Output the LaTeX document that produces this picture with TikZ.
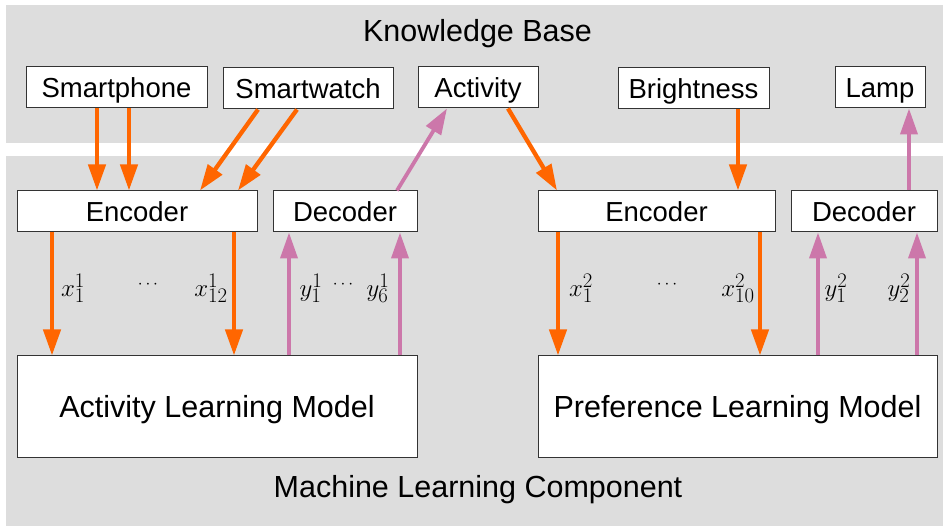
\documentclass[tikz,border=0pt]{standalone}
\usepackage{fontspec}
\setmainfont{Liberation Sans}
\usetikzlibrary{arrows.meta}
\definecolor{bandgray}{HTML}{DDDDDD}
\definecolor{feedorange}{HTML}{FF6600}
\definecolor{outpink}{HTML}{CC77AA}
\definecolor{boxline}{HTML}{333333}
\tikzset{
  box/.style={draw=boxline, line width=1pt, fill=white, inner sep=0pt,
    font=\fontsize{27.5}{30}\selectfont, text height=20pt, text depth=0pt},
  bigbox/.style={box, font=\fontsize{30.5}{33}\selectfont, text height=22pt, text depth=0pt},
  title/.style={font=\fontsize{30.5}{33}\selectfont, inner sep=0pt,
    text height=22pt, text depth=0pt},
  lbl/.style={font=\fontsize{28}{30}\selectfont, inner sep=0pt},
  dots/.style={font=\fontsize{18}{20}\selectfont, inner sep=0pt},
  inarrow/.style={draw=feedorange, line width=4.3pt,
    -{Triangle[length=26pt,width=17pt]}},
  outarrow/.style={draw=outpink, line width=3.8pt,
    -{Triangle[length=26pt,width=17pt]}}
}
\begin{document}
\begin{tikzpicture}[x=1pt,y=-1pt]
  \useasboundingbox[fill=white] (0,0) rectangle (943,526);
  % the two bands
  \fill[bandgray] (6,5) rectangle (943,143);
  \fill[bandgray] (6,156) rectangle (943,526);
  \node[title] (kb) at (477.5,30.5) {Knowledge Base};
  \node[title] (mlc) at (478,486.5) {Machine Learning Component};

  % knowledge base entries
  \node[box, minimum width=181pt, minimum height=41pt] (sp)   at (116.5,87.5) {Smartphone};
  \node[box, minimum width=170pt, minimum height=41pt] (sw)   at (308,88.5)   {Smartwatch};
  \node[box, minimum width=120pt, minimum height=41pt] (act)  at (478,87.5)   {Activity};
  \node[box, minimum width=151pt, minimum height=41pt] (br)   at (693.5,88.5) {Brightness};
  \node[box, minimum width=90pt,  minimum height=41pt] (lamp) at (880,87.5)   {Lamp};

  % encoders and decoders
  \node[box, minimum width=240pt, minimum height=41pt] (enc1) at (137,211.5)   {Encoder};
  \node[box, minimum width=144pt, minimum height=41pt] (dec1) at (345,211.5)   {Decoder};
  \node[box, minimum width=237pt, minimum height=41pt] (enc2) at (656.5,211.5) {Encoder};
  \node[box, minimum width=146pt, minimum height=41pt] (dec2) at (864,211.5)   {Decoder};

  % learning models
  \node[bigbox, minimum width=400pt, minimum height=102pt] (alm) at (217,407)   {Activity Learning Model};
  \node[bigbox, minimum width=399pt, minimum height=102pt] (plm) at (737.5,407) {Preference Learning Model};

  % knowledge base -> encoders
  \draw[inarrow] ([xshift=-19.5pt]sp.south) -- ([xshift=-40pt]enc1.north);
  \draw[inarrow] ([xshift=12.5pt]sp.south) -- ([xshift=-8pt]enc1.north);
  \draw[inarrow] ([xshift=-50pt]sw.south) -- ([xshift=63pt]enc1.north);
  \draw[inarrow] ([xshift=-11pt]sw.south) -- ([xshift=101pt]enc1.north);
  \draw[inarrow] ([xshift=30pt]act.south) -- ([xshift=-99.5pt]enc2.north);
  \draw[inarrow] ([xshift=44.5pt]br.south) -- ([xshift=81.5pt]enc2.north);

  % decoders -> knowledge base
  \draw[outarrow] ([xshift=52pt]dec1.north) -- ([xshift=-31pt]act.south);
  \draw[outarrow] ([xshift=45pt]dec2.north) -- ([xshift=29pt]lamp.south);

  % encoders -> models
  \draw[inarrow] ([xshift=-85pt]enc1.south) -- ([xshift=-165pt]alm.north);
  \draw[inarrow] ([xshift=97pt]enc1.south) -- ([xshift=17pt]alm.north);
  \draw[inarrow] ([xshift=-98.5pt]enc2.south) -- ([xshift=-179.5pt]plm.north);
  \draw[inarrow] ([xshift=103.5pt]enc2.south) -- ([xshift=22.5pt]plm.north);

  % models -> decoders
  \draw[outarrow] ([xshift=72pt]alm.north) -- ([xshift=-56pt]dec1.south);
  \draw[outarrow] ([xshift=183pt]alm.north) -- ([xshift=55pt]dec1.south);
  \draw[outarrow] ([xshift=80.5pt]plm.north) -- ([xshift=-46pt]dec2.south);
  \draw[outarrow] ([xshift=179.5pt]plm.north) -- ([xshift=53pt]dec2.south);

  % feature and output labels
  \node[lbl]  (xa)  at (73,288)  {$x^1_1$};
  \node[dots] (da)  at (148,285) {$\cdots$};
  \node[lbl]  (xb)  at (211,288) {$x^1_{12}$};
  \node[lbl]  (ya)  at (311,288) {$y^1_1$};
  \node[dots] (db)  at (343,285) {$\cdots$};
  \node[lbl]  (yb)  at (378,288) {$y^1_6$};
  \node[lbl]  (xc)  at (581,288) {$x^2_1$};
  \node[dots] (dc)  at (667,285) {$\cdots$};
  \node[lbl]  (xd)  at (738,288) {$x^2_{10}$};
  \node[lbl]  (yc)  at (836,288) {$y^2_1$};
  \node[lbl]  (yd)  at (899,288) {$y^2_2$};
\end{tikzpicture}
\end{document}
